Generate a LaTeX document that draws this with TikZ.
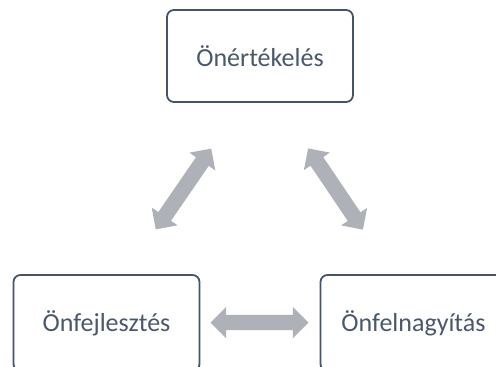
\documentclass[tikz,border=0pt]{standalone}
\usepackage{fontspec}
\setmainfont{Carlito}
\usetikzlibrary{shapes.arrows}
\definecolor{boxline}{HTML}{44546A}
\definecolor{textcol}{HTML}{4A586C}
\definecolor{arrowfill}{HTML}{AEB1B8}
\tikzset{
  topic/.style={draw=boxline, line width=1.8pt, rounded corners=7pt, fill=white,
    text=textcol, font=\fontsize{26}{30}\selectfont, minimum width=186pt, minimum height=92pt, inner sep=0pt},
  blockarrow/.style={double arrow, fill=arrowfill, draw=none, minimum height=98pt,
    minimum width=31pt, inner sep=7.5pt, double arrow head extend=8pt}
}
\begin{document}
\begin{tikzpicture}[x=1pt,y=-1pt]
\useasboundingbox (0,0) rectangle (496,367);
\node[topic] (top) at (260,56) {Önértékelés};
\node[topic, minimum height=96pt] (left) at (106.5,323) {Önfejlesztés};
\node[topic, minimum height=96pt] (right) at (413.5,323) {Önfelnagyítás};
\node[blockarrow] (ah) at (259.5,322.5) {};
\node[blockarrow, rotate=55.5] (al) at (183.5,189) {};
\node[blockarrow, rotate=-56] (ar) at (335.5,189) {};
\end{tikzpicture}
\end{document}
